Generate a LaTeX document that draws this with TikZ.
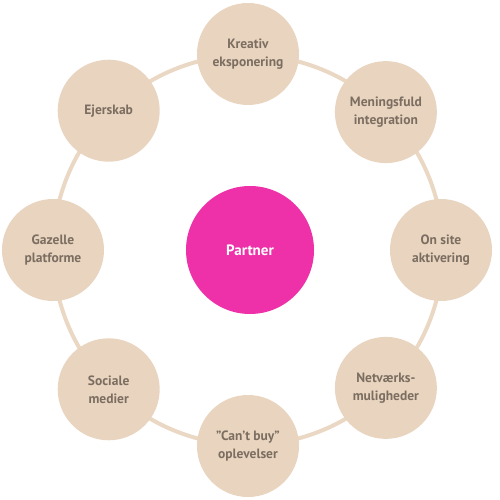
\documentclass[tikz,border=0pt]{standalone}
\usepackage{fontspec}
\setmainfont{PT Sans}
\usetikzlibrary{positioning,calc}
\definecolor{sand}{HTML}{E9D4BF}
\definecolor{sandline}{HTML}{EBD8C4}
\definecolor{bark}{HTML}{7B6E61}
\definecolor{partnerpink}{HTML}{EE31A8}

\begin{document}
\begin{tikzpicture}[
    x=1pt, y=1pt,
    font=\fontsize{13.5}{18}\selectfont\bfseries,
    topic/.style={circle, fill=sand, text=bark, minimum size=102pt, inner sep=0pt, align=center},
    hub/.style={circle, fill=partnerpink, text=white, minimum size=128pt, inner sep=0pt, font=\fontsize{15}{18}\selectfont\bfseries},
    ring/.style={draw=sandline, line width=4pt}
  ]
    \useasboundingbox (-250,-250) rectangle (250,250);
    \coordinate (mid) at (-2,0);
    \draw[ring] (mid) circle (195);
    \node[hub] (partner) at (0,0) {Partner};
    \node[topic] (kreativ) at ($(mid)+(90:196)$) {Kreativ\\eksponering};
    \node[topic] (mening) at ($(mid)+(45:195)$) {Meningsfuld\\integration};
    \node[topic] (onsite) at ($(mid)+(0:193)$) {On site\\aktivering};
    \node[topic] (netvaerk) at ($(mid)+(-45:195)$) {Netværks-\\muligheder};
    \node[topic] (cantbuy) at ($(mid)+(-90:196)$) {”Can’t buy”\\oplevelser};
    \node[topic] (sociale) at ($(mid)+(-135:197)$) {Sociale\\medier};
    \node[topic] (gazelle) at ($(mid)+(180:195)$) {Gazelle\\platforme};
    \node[topic] (ejerskab) at ($(mid)+(135:197)$) {Ejerskab};
  \end{tikzpicture}
\end{document}
